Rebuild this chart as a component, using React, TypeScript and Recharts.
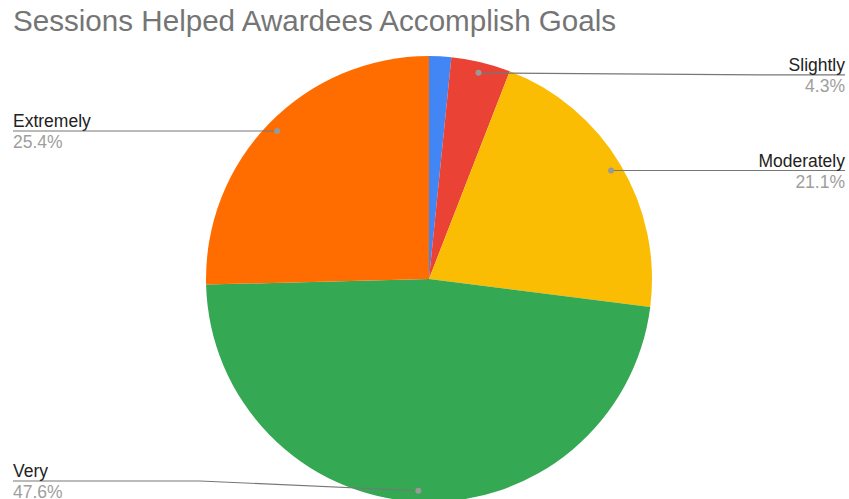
import { PieChart, Pie, Cell } from 'recharts';

const categories = ['Not at all', 'Slightly', 'Moderately', 'Very', 'Extremely'];
const shares = [1.6, 4.3, 21.1, 47.6, 25.4];
const colors = ['#4285F4', '#EA4335', '#FBBC04', '#34A853', '#FF6D01'];

const data = categories.map((name, i) => ({ name, value: shares[i] }));

const RAD = Math.PI / 180;
const FONT = '"Liberation Sans", Arial, sans-serif';

function SliceLabel(props: any) {
  const { cx, cy, midAngle, outerRadius, percent, index, name } = props;
  if (index === 0) return null;
  const r = outerRadius - 11;
  const dx = cx + r * Math.cos(-midAngle * RAD);
  const dy = cy + r * Math.sin(-midAngle * RAD);
  const right = dx > cx;
  const ly = Math.min(dy + (right && dy < 100 ? 2 : 0), 481);
  const edge = right ? 845 : 13;
  const elbow = right ? 760 : 200;
  const pct = (percent * 100).toFixed(1) + '%';
  return (
    <g>
      <path d={`M${edge},${ly} L${elbow},${ly} L${dx},${dy}`} stroke="#777" strokeWidth={1.2} fill="none" />
      <circle cx={dx} cy={dy} r={3} fill="#999" />
      <text x={edge} y={ly - 4} textAnchor={right ? 'end' : 'start'} fontSize={17.5} fill="#222" fontFamily={FONT}>
        {name}
      </text>
      <text x={edge} y={ly + 17} textAnchor={right ? 'end' : 'start'} fontSize={17.5} fill="#9e9e9e" fontFamily={FONT}>
        {pct}
      </text>
    </g>
  );
}

export default function App() {
  return (
    <div style={{ position: 'absolute', left: 0, top: 0, width: 849, height: 499, background: '#fff', overflow: 'hidden' }}>
      <PieChart width={849} height={499} margin={{ top: 0, right: 0, bottom: 0, left: 0 }}>
        <Pie
          data={data}
          dataKey="value"
          nameKey="name"
          cx={429}
          cy={279}
          outerRadius={223}
          startAngle={90}
          endAngle={-270}
          stroke="none"
          labelLine={false}
          label={SliceLabel}
          isAnimationActive={false}
        >
          {data.map((d, i) => (
            <Cell key={d.name} fill={colors[i]} />
          ))}
        </Pie>
      </PieChart>
      <svg width={849} height={45} style={{ position: 'absolute', left: 0, top: 0 }}>
        <text x={13} y={31} fontSize={29.6} fill="#757575" fontFamily={FONT}>
          Sessions Helped Awardees Accomplish Goals
        </text>
      </svg>
    </div>
  );
}
